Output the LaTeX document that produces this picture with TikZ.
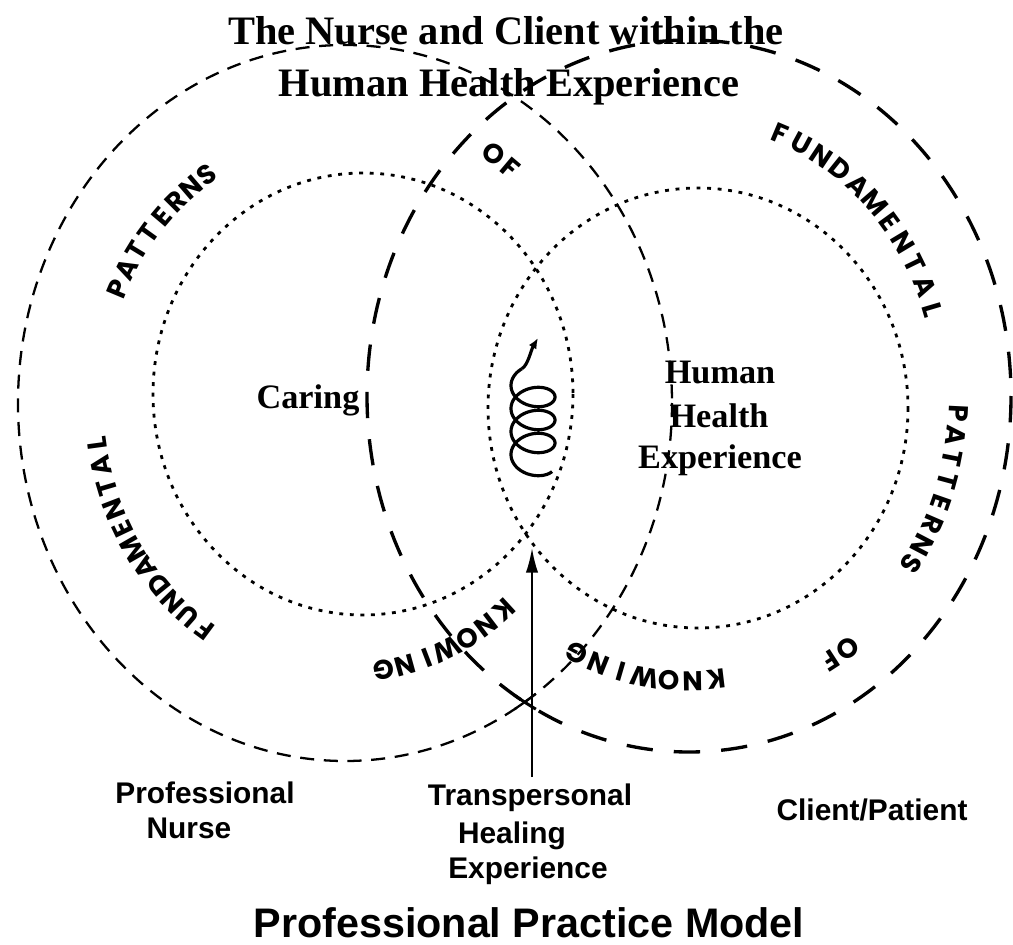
\documentclass[tikz,border=0pt]{standalone}
\usepackage{fontspec}
\setmainfont{Liberation Serif}
\newfontfamily\labelfont{Liberation Sans}
\newfontfamily\arcfont{Poppins}
\usetikzlibrary{arrows.meta}

% letters set one by one along a ring: name, cx, cy, rx, ry, start angle, step, scale, letters
\newcommand{\arcword}[9]{%
  \foreach \ch [count=\k from 0] in {#9} {%
    \pgfmathsetmacro{\ang}{#6+\k*#7}%
    \pgfmathsetmacro{\tilt}{atan2(-#5*cos(\ang),-#4*sin(\ang))}%
    \node[arcletter, rotate=\tilt] (#1-\k) at ({#2+#8*#4*cos(\ang)},{#3+#8*#5*sin(\ang)}) {\ch};%
  }%
}

\begin{document}
\begin{tikzpicture}[x=0.02cm, y=-0.02cm,
    nurseline/.style={dash pattern=on 8pt off 5.5pt, line width=1.3pt},
    clientline/.style={dash pattern=on 15pt off 12pt, line width=1.9pt},
    dotline/.style={dash pattern=on 2.2pt off 3.8pt, line width=1.6pt},
    coil/.style={line width=1.8pt},
    healarrow/.style={-{Latex[length=14pt,width=7pt]}, line width=1.1pt},
    arcletter/.style={font=\arcfont\bfseries\fontsize{15.5}{15.5}\selectfont, inner sep=0pt},
    headtext/.style={font=\bfseries\fontsize{23}{28}\selectfont, anchor=base},
    ringtext/.style={font=\bfseries\fontsize{19.5}{24}\selectfont, anchor=base},
    sidetext/.style={font=\labelfont\bfseries\fontsize{17}{20}\selectfont, anchor=base},
    modeltext/.style={font=\labelfont\bfseries\fontsize{23.5}{28}\selectfont, anchor=base}]

    \useasboundingbox (0,0) rectangle (1013,945);

    % Titolo
    \node[headtext] (title1) at (506,45) {The Nurse and Client within the};
    \node[headtext] (title2) at (509,97) {Human Health Experience};

    % Anelli esterni
    \draw[nurseline] (345,403) ellipse [x radius=327, y radius=358];
    \draw[clientline] (689,396) ellipse [x radius=322, y radius=356];
    \draw[line width=1.3pt] plot[domain=54.4:58.8, samples=6] ({345+327*cos(\x)},{403+358*sin(\x)});
    \draw[line width=1.7pt] plot[domain=118.4:122.8, samples=6] ({689+322*cos(\x)},{396+356*sin(\x)});

    % Cerchi punteggiati
    \draw[dotline] (363,394) ellipse [x radius=210, y radius=221];
    \draw[dotline] (698,408) ellipse [x radius=210, y radius=220];

    % Scritte lungo gli anelli
    \arcword{nfun}{345}{403}{327}{358}{124}{4.75}{0.765}{F,U,N,D,A,M,E,N,T,A,L}
    \arcword{npat}{345}{403}{327}{358}{204.6}{4.56}{0.765}{P,A,T,T,E,R,N,S}
    \arcword{nof}{345}{403}{327}{358}{303.2}{4.4}{0.83}{O,F}
    \arcword{nkno}{345}{403}{327}{358}{50}{5.17}{0.755}{K,N,O,W,I,N,G}
    \arcword{cfun}{688}{397}{326}{357}{291}{5.1}{0.79}{F,U,N,D,A,M,E,N,T,A,L}
    \arcword{cpat}{688}{397}{326}{357}{3.1}{4.46}{0.83}{P,A,T,T,E,R,N,S}
    \arcword{cof}{688}{397}{326}{357}{55.2}{4.2}{0.857}{O,F}
    \arcword{ckno}{688}{397}{326}{357}{83.7}{5.3}{0.795}{K,N,O,W,I,N,G}

    % Spirale al centro
    \coordinate (coilstart) at (522,368.6);
    \coordinate (coiltip) at (538,338);
    \draw[coil] plot[domain=-60:1230, samples=260, smooth] ({533-22*cos(\x)},{385.5+\x/360*23+15*sin(\x)});
    \draw[coil, -{Latex[length=6pt,width=5pt]}] (coilstart) .. controls (528,365) and (531,350) .. (coiltip);

    % Etichette interne
    \node[ringtext] (caring) at (308,408) {Caring};
    \node[ringtext] (hhe1) at (720,383) {Human};
    \node[ringtext] (hhe2) at (719,427) {Health};
    \node[ringtext] (hhe3) at (720,468) {Experience};

    % Etichette in basso
    \node[sidetext] (nurse1) at (205,803) {Professional};
    \node[sidetext] (nurse2) at (189,838) {Nurse};
    \node[sidetext] (heal1) at (530,805) {Transpersonal};
    \node[sidetext] (heal2) at (512,843) {Healing};
    \node[sidetext] (heal3) at (528,878) {Experience};
    \node[sidetext] (client) at (872,820) {Client/Patient};
    \node[modeltext] (model) at (529,937) {Professional Practice Model};

    % Freccia
    \coordinate (lensbot) at (532,548);
    \draw[healarrow] (heal1.north -| lensbot) -- (lensbot);
\end{tikzpicture}
\end{document}
